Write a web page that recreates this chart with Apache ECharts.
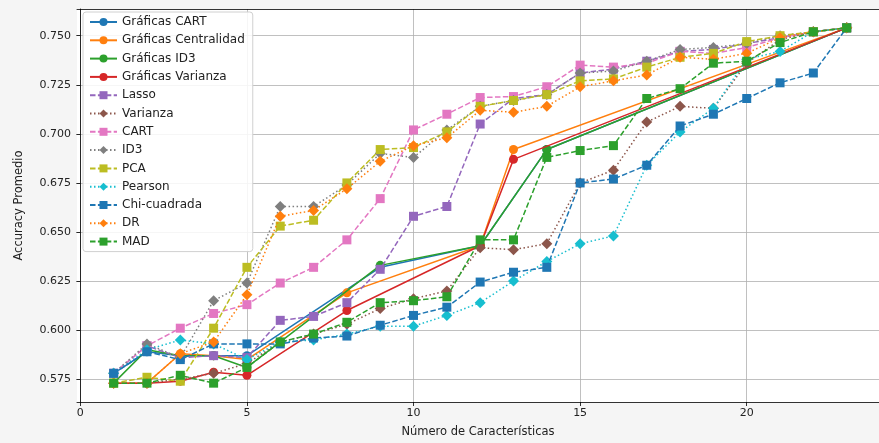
<!DOCTYPE html>
<html>
<head>
<meta charset="utf-8">
<script src="https://cdn.jsdelivr.net/npm/echarts@6/dist/echarts.min.js"></script>
<style>
html,body{margin:0;padding:0;background:#f5f5f5;}
#chart{width:879px;height:443px;}
</style>
</head>
<body>
<div id="chart"></div>
<script>
// ---- Data ----
const xTicks = [0, 5, 10, 15, 20];
const yTicks = [0.575, 0.600, 0.625, 0.650, 0.675, 0.700, 0.725, 0.750];
const features = [1,2,3,4,5,6,7,8,9,10,11,12,13,14,15,16,17,18,19,20,21,22,23];

const seriesNames = ['Gráficas CART','Gráficas Centralidad','Gráficas ID3','Gráficas Varianza',
  'Lasso','Varianza','CART','ID3','PCA','Pearson','Chi-cuadrada','DR','MAD'];

const graficasCartX = [1,2,3,4,5,9,12,14,23];
const graficasCartY = [0.578,0.589,0.587,0.587,0.587,0.632,0.643,0.692,0.754];
const graficasCentralidadX = [1,2,3,4,5,8,12,13,23];
const graficasCentralidadY = [0.573,0.573,0.588,0.587,0.585,0.619,0.643,0.692,0.754];
const graficasId3X = [1,2,3,4,5,6,9,12,14,23];
const graficasId3Y = [0.573,0.590,0.587,0.587,0.581,0.594,0.633,0.643,0.692,0.754];
const graficasVarianzaX = [1,2,3,4,5,8,12,13,23];
const graficasVarianzaY = [0.573,0.573,0.574,0.5786,0.577,0.610,0.643,0.687,0.754];

const lassoY =      [0.578,0.592,0.586,0.587,0.586,0.605,0.607,0.614,0.631,0.658,0.663,0.705,0.718,0.720,0.731,0.733,0.737,0.742,0.743,0.746,0.749,0.752,0.754];
const varianzaY =   [0.573,0.573,0.575,0.578,0.583,0.594,0.598,0.603,0.611,0.616,0.620,0.642,0.641,0.644,0.675,0.6815,0.706,0.714,0.713,0.736,0.748,0.752,0.754];
const cartY =       [0.578,0.592,0.601,0.6085,0.613,0.624,0.632,0.646,0.667,0.702,0.710,0.7185,0.719,0.724,0.735,0.734,0.736,0.742,0.741,0.744,0.749,0.752,0.754];
const id3Y =        [0.578,0.593,0.586,0.615,0.624,0.663,0.663,0.674,0.690,0.688,0.702,0.714,0.717,0.720,0.731,0.732,0.737,0.743,0.744,0.746,0.750,0.752,0.754];
const pcaY =        [0.573,0.576,0.574,0.601,0.632,0.653,0.656,0.675,0.692,0.693,0.701,0.714,0.717,0.720,0.727,0.728,0.734,0.739,0.741,0.747,0.750,0.752,0.754];
const pearsonY =    [0.578,0.590,0.595,0.593,0.585,0.594,0.595,0.598,0.602,0.602,0.6075,0.614,0.625,0.635,0.644,0.648,0.684,0.701,0.713,0.738,0.742,0.752,0.754];
const chiY =        [0.578,0.589,0.585,0.593,0.593,0.593,0.596,0.597,0.6025,0.6075,0.6117,0.6245,0.6295,0.632,0.675,0.677,0.684,0.704,0.710,0.718,0.726,0.731,0.754];
const drY =         [0.573,0.573,0.588,0.594,0.618,0.658,0.661,0.672,0.686,0.694,0.698,0.712,0.711,0.714,0.724,0.727,0.730,0.739,0.738,0.741,0.749,0.752,0.754];
const madY =        [0.573,0.573,0.577,0.573,0.581,0.594,0.598,0.604,0.614,0.615,0.617,0.646,0.646,0.688,0.6915,0.694,0.718,0.723,0.736,0.737,0.7465,0.752,0.754];

// ---- Build ----
const C = {blue:'#1f77b4', orange:'#ff7f0e', green:'#2ca02c', red:'#d62728', purple:'#9467bd',
  brown:'#8c564b', pink:'#e377c2', grey:'#7f7f7f', olive:'#bcbd22', cyan:'#17becf'};
const SOLID = 'solid', DASH = [5.5, 2.4], DOT = [1.5, 2.5];

function pairs(xs, ys){ return xs.map((x,i)=>[x, ys[i]]); }

const defs = [
  {x:graficasCartX, y:graficasCartY, c:C.blue, s:'circle', l:SOLID},
  {x:graficasCentralidadX, y:graficasCentralidadY, c:C.orange, s:'circle', l:SOLID},
  {x:graficasId3X, y:graficasId3Y, c:C.green, s:'circle', l:SOLID},
  {x:graficasVarianzaX, y:graficasVarianzaY, c:C.red, s:'circle', l:SOLID},
  {x:features, y:lassoY, c:C.purple, s:'rect', l:DASH},
  {x:features, y:varianzaY, c:C.brown, s:'diamond', l:DOT},
  {x:features, y:cartY, c:C.pink, s:'rect', l:DASH},
  {x:features, y:id3Y, c:C.grey, s:'diamond', l:DOT},
  {x:features, y:pcaY, c:C.olive, s:'rect', l:DASH},
  {x:features, y:pearsonY, c:C.cyan, s:'diamond', l:DOT},
  {x:features, y:chiY, c:C.blue, s:'rect', l:DASH},
  {x:features, y:drY, c:C.orange, s:'diamond', l:DOT},
  {x:features, y:madY, c:C.green, s:'rect', l:DASH}
];

const series = defs.map((d,i)=>({
  name: seriesNames[i],
  type: 'line',
  data: pairs(d.x, d.y),
  symbol: d.s,
  symbolSize: d.s==='circle' ? 9 : (d.s==='rect' ? 9 : 11),
  showAllSymbol: true,
  itemStyle: {color: d.c},
  lineStyle: {color: d.c, width: 1.5, type: d.l},
  emphasis: {disabled: true},
  animation: false,
  z: 2 + i
}));

const font = 'DejaVu Sans';
const chart = echarts.init(document.getElementById('chart'), null, {renderer:'canvas'});
chart.setOption({
  backgroundColor: '#f5f5f5',
  animation: false,
  textStyle: {fontFamily: font},
  grid: {left: 77, top: 9, right: 0, bottom: 41, show: true, backgroundColor: '#ffffff', borderWidth: 0, containLabel: false},
  legend: {
    data: seriesNames, orient: 'vertical', left: 83, top: 12,
    itemWidth: 27, itemHeight: 10, itemGap: 6.3,
    padding: [4, 8, 4, 6],
    backgroundColor: 'rgba(255,255,255,0.85)', borderColor: '#d0d0d0', borderWidth: 1, borderRadius: 3,
    textStyle: {fontFamily: font, fontSize: 12, color: '#222'}
  },
  xAxis: [{
    type: 'value', min: -0.1, max: 23.97,
    name: 'Número de Características', nameLocation: 'middle', nameGap: 24,
    nameTextStyle: {fontFamily: font, fontSize: 11.5, color: '#222'},
    axisLine: {show: true, onZero: false, lineStyle: {color: '#000', width: 0.8}},
    axisTick: {show: true, length: 4, lineStyle: {color: '#000', width: 0.8}, customValues: xTicks},
    axisLabel: {customValues: xTicks, fontFamily: font, fontSize: 11, color: '#222', margin: 6},
    splitLine: {show: true, lineStyle: {color: '#b0b0b0', width: 0.8}}
  }, {
    type: 'value', position: 'top', min: -0.1, max: 23.97,
    axisLine: {show: true, lineStyle: {color: '#000', width: 0.8}},
    axisTick: {show: false}, axisLabel: {show: false}, splitLine: {show: false}
  }],
  yAxis: {
    type: 'value', min: 0.5634, max: 0.7636,
    name: 'Accuracy Promedio', nameLocation: 'middle', nameGap: 52,
    nameTextStyle: {fontFamily: font, fontSize: 11.5, color: '#222'},
    axisLine: {show: true, lineStyle: {color: '#000', width: 0.8}},
    axisTick: {show: true, length: 4, lineStyle: {color: '#000', width: 0.8}, customValues: yTicks},
    axisLabel: {customValues: yTicks, fontFamily: font, fontSize: 11, color: '#222', margin: 6,
      formatter: v => v.toFixed(3)},
    splitLine: {show: true, lineStyle: {color: '#b0b0b0', width: 0.8}}
  },
  series: series
});
</script>
</body>
</html>
